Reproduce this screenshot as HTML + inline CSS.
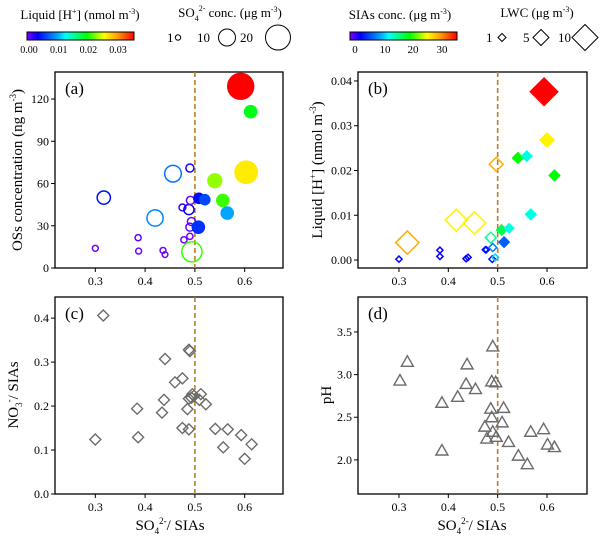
<!DOCTYPE html>
<html><head><meta charset="utf-8"><style>
body{margin:0;background:#fff}
svg, svg text{font-family:"Liberation Serif","DejaVu Serif",serif}
</style></head><body>
<svg id="c" width="600" height="538" viewBox="0 0 600 538" font-family="Liberation Serif, DejaVu Serif, serif">
<defs>
<linearGradient id="rb" x1="0" x2="1" y1="0" y2="0">
<stop offset="0" stop-color="#7f00ff"/><stop offset="0.1" stop-color="#0000ff"/><stop offset="0.3" stop-color="#00b4ff"/><stop offset="0.36" stop-color="#00ffff"/><stop offset="0.56" stop-color="#00ff00"/><stop offset="0.72" stop-color="#ffff00"/><stop offset="0.85" stop-color="#ff9900"/><stop offset="1" stop-color="#ff0000"/>
</linearGradient>
</defs>
<g>
<text x="80" y="19" font-size="13" text-anchor="middle">Liquid [H<tspan font-size="8" dy="-5">+</tspan><tspan dy="5">] (nmol m</tspan><tspan font-size="8" dy="-5">-3</tspan><tspan dy="5">)</tspan></text>
<rect x="27" y="32" width="107" height="8" fill="url(#rb)" stroke="#000" stroke-width="1"/>
<g font-size="10" text-anchor="middle"><text x="29" y="53">0.00</text><text x="58.7" y="53">0.01</text><text x="88.4" y="53">0.02</text><text x="118" y="53">0.03</text></g>
</g>
<g>
<text x="230" y="17" font-size="13" text-anchor="middle">SO<tspan font-size="8" dy="4">4</tspan><tspan font-size="8" dy="-10">2-</tspan><tspan dy="6"> conc. (μg m</tspan><tspan font-size="8" dy="-5">-3</tspan><tspan dy="5">)</tspan></text>
<g font-size="13"><text x="167" y="42">1</text><circle cx="178" cy="37.5" r="2.7" fill="none" stroke="#000"/>
<text x="197" y="42">10</text><circle cx="227" cy="37.5" r="8.5" fill="none" stroke="#000"/>
<text x="240" y="42">20</text><circle cx="278" cy="37.5" r="12.5" fill="none" stroke="#000"/></g>
</g>
<g>
<text x="400" y="19" font-size="13" text-anchor="middle">SIAs conc. (μg m<tspan font-size="8" dy="-5">-3</tspan><tspan dy="5">)</tspan></text>
<rect x="350" y="32" width="107" height="8" fill="url(#rb)" stroke="#000"/>
<g font-size="11" text-anchor="middle"><text x="355" y="53">0</text><text x="385" y="53">10</text><text x="413" y="53">20</text><text x="442" y="53">30</text></g>
</g>
<g>
<text x="537" y="17" font-size="13" text-anchor="middle">LWC (μg m<tspan font-size="8" dy="-5">-3</tspan><tspan dy="5">)</tspan></text>
<g font-size="13"><text x="486" y="42">1</text><path d="M498 37.5l4 -4l4 4l-4 4z" fill="none" stroke="#000"/>
<text x="523" y="42">5</text><path d="M533 37.5l8 -8l8 8l-8 8z" fill="none" stroke="#000"/>
<text x="558" y="42">10</text><path d="M572 37.5l13 -13l13 13l-13 13z" fill="none" stroke="#000"/></g>
</g>
<g id="plots"></g>
</svg>
<script>
// Panel (a)
const aX=[0.30,0.317,0.386,0.387,0.436,0.44,0.42,0.456,0.49,0.478,0.49,0.475,0.488,0.491,0.493,0.49,0.494,0.508,0.52,0.507,0.54,0.556,0.565,0.592,0.612,0.603];
const aOSs=[14,50,21.5,12,12.5,9.5,35.5,67,71,20,22.5,43,41.5,48,33,29,11.5,49.5,48.5,29,62,48,39,129,111,68];
const aH=[0.0002,0.004,0.0008,0.0003,0.0003,0.0005,0.0089,0.0083,0.003,0.0005,0.0003,0.002,0.0035,0.0004,0.0004,0.0008,0.0214,0.004,0.0065,0.0055,0.0235,0.0215,0.0102,0.0376,0.0195,0.0268];
const aSO4=[1.2,6,1.3,1.2,1.2,1.1,9,9.5,2.2,1.3,1.3,1.6,3.5,2.2,2.2,2.2,14,3.5,3.5,5,6.5,5,5,23,5,17];
// Panel (b)
const bX=[0.30,0.317,0.383,0.383,0.436,0.44,0.416,0.453,0.475,0.477,0.486,0.49,0.489,0.495,0.497,0.508,0.523,0.513,0.541,0.559,0.567,0.594,0.60,0.615];
const bH=[0.0002,0.0039,0.0022,0.0008,0.0003,0.0006,0.0089,0.0083,0.0023,0.0023,0.0050,0.0028,0.0002,0.0006,0.0214,0.0067,0.0071,0.0040,0.0228,0.0232,0.0102,0.0376,0.0268,0.0189];
const bSIA=[3.5,28,3,3,3.5,3.5,25,25,4,4,15,8,4,11,28,17,13,7,19,13,13,34,25,19];
const bLWC=[0.6,8.5,0.6,0.6,0.6,0.6,7.5,7.8,0.6,0.6,1.9,1.0,0.7,0.7,3,1.6,1.3,1.6,1.7,1.6,1.7,11.7,3,1.7];
// Panel (c)
const cX=[0.30,0.316,0.384,0.386,0.44,0.46,0.438,0.434,0.475,0.488,0.49,0.475,0.488,0.485,0.488,0.493,0.495,0.498,0.509,0.512,0.522,0.541,0.566,0.557,0.593,0.614,0.60];
const cNO3=[0.124,0.406,0.194,0.129,0.307,0.254,0.214,0.185,0.263,0.328,0.325,0.150,0.147,0.193,0.217,0.219,0.227,0.223,0.214,0.227,0.204,0.148,0.147,0.106,0.134,0.113,0.080];
// Panel (d)
const dX=[0.302,0.317,0.387,0.387,0.419,0.438,0.436,0.455,0.49,0.488,0.496,0.486,0.488,0.474,0.478,0.49,0.497,0.512,0.509,0.522,0.542,0.56,0.567,0.593,0.601,0.615];
const dPH=[2.93,3.15,2.67,2.11,2.74,3.12,2.89,2.83,3.33,2.92,2.91,2.60,2.50,2.39,2.25,2.33,2.27,2.61,2.44,2.21,2.05,1.95,2.33,2.36,2.18,2.15];
const xTicks=[0.3,0.4,0.5,0.6];

const NS='http://www.w3.org/2000/svg';
const root=document.getElementById('plots');
function el(t,a,p){const e=document.createElementNS(NS,t);for(const k in a)e.setAttribute(k,a[k]);(p||root).appendChild(e);return e;}
const stops=[[0,[127,0,255]],[0.1,[0,0,255]],[0.3,[0,180,255]],[0.36,[0,255,255]],[0.56,[0,255,0]],[0.72,[255,255,0]],[0.85,[255,153,0]],[1,[255,0,0]]];
function cmap(t){t=Math.max(0,Math.min(1,t));for(let i=1;i<stops.length;i++){if(t<=stops[i][0]){const a=stops[i-1],b=stops[i];const f=(t-a[0])/(b[0]-a[0]);const c=a[1].map((v,j)=>Math.round(v+(b[1][j]-v)*f));return `rgb(${c})`;}}return 'rgb(255,0,0)';}
function lin(d0,d1,r0,r1){return v=>r0+(v-d0)/(d1-d0)*(r1-r0);}

function panel(name,L,R,T,B,xd,yd,yticks,yfmt,label){
  const g=el('g',{});
  
  
  const sx=lin(xd[0],xd[1],L,R), sy=lin(yd[0],yd[1],B,T);
  const fr=el('rect',{x:L,y:T,width:R-L,height:B-T,fill:'none',stroke:'#000','stroke-width':1.3},g);
  
  
  xTicks.forEach(t=>{el('line',{x1:sx(t),x2:sx(t),y1:B,y2:B+4,stroke:'#000'},g);
    const tx=el('text',{x:sx(t),y:B+17,'font-size':12,'text-anchor':'middle'},g);tx.textContent=t.toFixed(1);
    
    });
  yticks.forEach(t=>{el('line',{x1:L-4,x2:L,y1:sy(t),y2:sy(t),stroke:'#000'},g);
    const tx=el('text',{x:L-6,y:sy(t)+4,'font-size':12,'text-anchor':'end'},g);tx.textContent=yfmt(t);
    
    });
  const dl=el('line',{x1:sx(0.5),x2:sx(0.5),y1:T,y2:B,stroke:'#b8802a','stroke-width':1.6,'stroke-dasharray':'5,3'},g);
  
  
  const lb=el('text',{x:L+10,y:T+22,'font-size':17},g);lb.textContent=label;
  
  
  return {g,sx,sy};
}
const pa=panel('panel-a',55,283,72,268,[0.219,0.677],[0,139.2],[0,30,60,90,120],t=>String(t),'(a)');
aX.forEach((x,i)=>{const col=cmap(aH[i]/0.036);const f=x>0.5;
  const c=el('circle',{cx:pa.sx(x),cy:pa.sy(aOSs[i]),r:2.7*Math.sqrt(aSO4[i]),fill:f?col:'none',stroke:col,'stroke-width':1.5},pa.g);
  
  });
const pb=panel('panel-b',358,587,72,268,[0.217,0.681],[-0.00178,0.042],[0,0.01,0.02,0.03,0.04],t=>t.toFixed(2),'(b)');
bX.forEach((x,i)=>{const col=cmap(bSIA[i]/34);const f=x>0.5;const h=4*Math.sqrt(bLWC[i]);const cx=pb.sx(x),cy=pb.sy(bH[i]);
  const p=el('path',{d:`M${cx-h} ${cy}L${cx} ${cy-h}L${cx+h} ${cy}L${cx} ${cy+h}Z`,fill:f?col:'none',stroke:col,'stroke-width':1.5},pb.g);
  
  });
const pc=panel('panel-c',55,283,297,494,[0.219,0.677],[0,0.448],[0,0.1,0.2,0.3,0.4],t=>t.toFixed(1),'(c)');
cX.forEach((x,i)=>{const cx=pc.sx(x),cy=pc.sy(cNO3[i]),h=5.5;
  const p=el('path',{d:`M${cx-h} ${cy}L${cx} ${cy-h}L${cx+h} ${cy}L${cx} ${cy+h}Z`,fill:'none',stroke:'#6b6b6b','stroke-width':1.4},pc.g);
  
  });
const pd=panel('panel-d',358,587,297,494,[0.217,0.681],[1.6,3.91],[2.0,2.5,3.0,3.5],t=>t.toFixed(1),'(d)');
dX.forEach((x,i)=>{const cx=pd.sx(x),cy=pd.sy(dPH[i]);
  const p=el('path',{d:`M${cx-6} ${cy+4.5}L${cx} ${cy-6}L${cx+6} ${cy+4.5}Z`,fill:'none',stroke:'#6b6b6b','stroke-width':1.4},pd.g);
  
  });
</script>
<script>
(function(){
const s=document.getElementById('c');const NS='http://www.w3.org/2000/svg';
function t(html,x,y,rot,name){const g=document.createElementNS(NS,'text');g.setAttribute('x',x);g.setAttribute('y',y);g.setAttribute('font-size','15');g.setAttribute('text-anchor','middle');if(rot)g.setAttribute('transform',`rotate(-90 ${x} ${y})`);g.innerHTML=html;


s.appendChild(g);}
t('OSs concentration (ng m<tspan font-size="9" dy="-6">-3</tspan><tspan dy="6">)</tspan>',22,170,true,'y-axis-title-a');
t('Liquid [H<tspan font-size="9" dy="-6">+</tspan><tspan dy="6">] (nmol m</tspan><tspan font-size="9" dy="-6">-3</tspan><tspan dy="6">)</tspan>',322,170,true,'y-axis-title-b');
t('NO<tspan font-size="9" dy="4">3</tspan><tspan font-size="9" dy="-10">-</tspan><tspan dy="6">/ SIAs</tspan>',18,395,true,'y-axis-title-c');
t('pH',331,395,true,'y-axis-title-d');
t('SO<tspan font-size="9" dy="4">4</tspan><tspan font-size="9" dy="-10">2-</tspan><tspan dy="6">/ SIAs</tspan>',170,530,false,'x-axis-title-c');
t('SO<tspan font-size="9" dy="4">4</tspan><tspan font-size="9" dy="-10">2-</tspan><tspan dy="6">/ SIAs</tspan>',472,530,false,'x-axis-title-d');
})();
</script>
</body></html>
